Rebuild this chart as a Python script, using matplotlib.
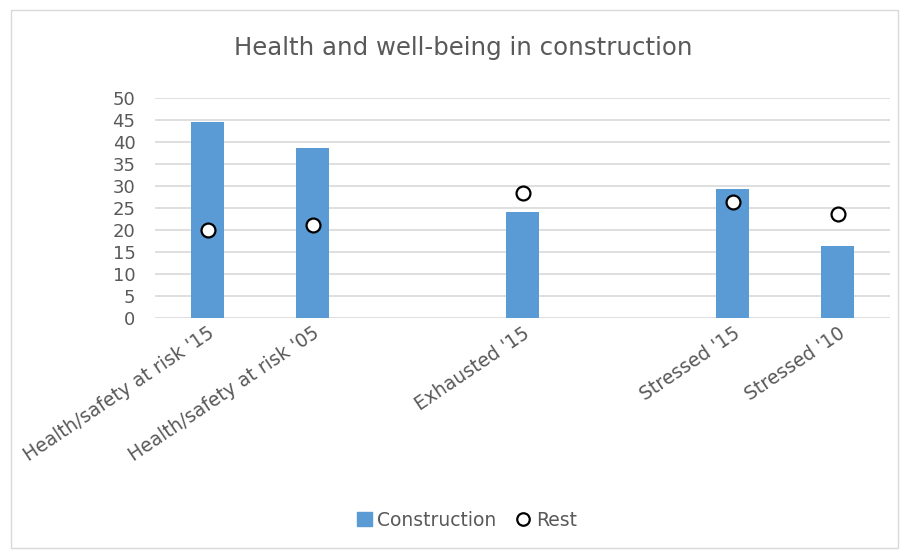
import matplotlib
matplotlib.use("Agg")
import matplotlib.pyplot as plt
from matplotlib.patches import Rectangle
from matplotlib.lines import Line2D

# dados
categories = ["Health/safety at risk '15", "Health/safety at risk '05", "",
              "Exhausted '15", "", "Stressed '15", "Stressed '10"]
construction = [44.5, 38.6, None, 24.0, None, 29.3, 16.3]
rest = [20.0, 21.2, None, 28.5, None, 26.4, 23.7]
yticks = [0, 5, 10, 15, 20, 25, 30, 35, 40, 45, 50]

TEXT = "#595959"
GRID = "#d9d9d9"
BLUE = "#5b9bd5"

fig = plt.figure(figsize=(9.08, 5.51), dpi=100)
ax = fig.add_axes([155/908, 1 - 318/551, 735/908, 220/551])

xs = list(range(len(categories)))
bx = [x for x, v in zip(xs, construction) if v is not None]
bv = [v for v in construction if v is not None]
rx = [x for x, v in zip(xs, rest) if v is not None]
rv = [v for v in rest if v is not None]

ax.bar(bx, bv, width=0.31, color=BLUE, zorder=2, label="Construction")
ax.plot(rx, rv, linestyle="none", marker="o", markersize=10,
        markerfacecolor="white", markeredgecolor="black",
        markeredgewidth=1.6, zorder=3, label="Rest")

ax.set_xlim(-0.5, len(categories) - 0.5)
ax.set_ylim(0, 50)
ax.set_yticks(yticks)
ax.yaxis.grid(True, color=GRID, linewidth=1.2, zorder=0)
ax.set_axisbelow(True)
for s in ax.spines.values():
    s.set_visible(False)
ax.tick_params(axis="both", length=0, colors=TEXT, labelsize=13)
ax.tick_params(axis="y", pad=14)

ax.set_xticks(xs)
ax.set_xticklabels(categories, rotation=34, ha="right", rotation_mode="anchor",
                   fontsize=13.5, color=TEXT)
ax.tick_params(axis="x", pad=4)

fig.text(463/908, 1 - 48/551, "Health and well-being in construction",
         ha="center", va="center", fontsize=17.6, color=TEXT)

handles = [Rectangle((0, 0), 1, 1, color=BLUE),
           Line2D([], [], linestyle="none", marker="o", markersize=9,
                  markerfacecolor="white", markeredgecolor="black",
                  markeredgewidth=1.6)]
fig.legend(handles, ["Construction", "Rest"], loc="center",
           bbox_to_anchor=(467/908, 1 - 520/551), ncol=2, frameon=False,
           fontsize=13.5, labelcolor=TEXT, handlelength=0.8, handletextpad=0.3,
           columnspacing=1.0)

fig.patches.append(Rectangle((11/908, 1 - 548/551), 887/908, 538/551,
                             transform=fig.transFigure, fill=False,
                             edgecolor=GRID, linewidth=1))

fig.savefig("out.png", dpi=100)
